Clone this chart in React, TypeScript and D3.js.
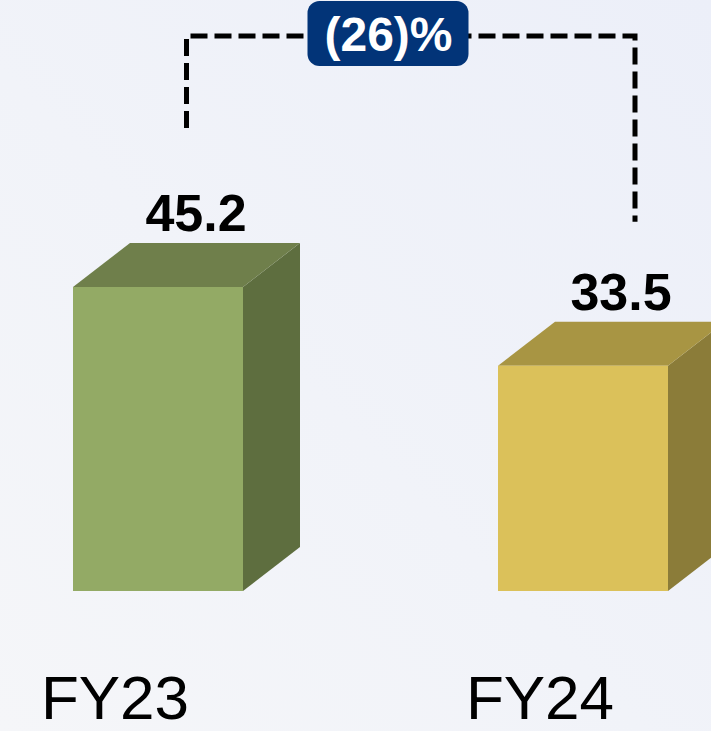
import { useEffect, useRef } from 'react';
import * as d3 from 'd3';

const categories = ['FY23', 'FY24'];
const values = [45.2, 33.5];
const valueLabels = ['45.2', '33.5'];
const frontColors = ['#93aa65', '#dbc15a'];
const topColors = ['#6f7f4b', '#a89543'];
const sideColors = ['#5e6e3f', '#8b7c39'];

const W = 711;
const H = 731;

export default function App() {
  const svgRef = useRef<SVGSVGElement>(null);

  useEffect(() => {
    const svg = d3.select(svgRef.current);
    svg.selectAll('*').remove();

    const defs = svg.append('defs');
    const grad = defs.append('linearGradient')
      .attr('id', 'bg').attr('x1', '100%').attr('y1', '0%').attr('x2', '0%').attr('y2', '100%');
    grad.append('stop').attr('offset', '0%').attr('stop-color', '#eceff9');
    grad.append('stop').attr('offset', '55%').attr('stop-color', '#f1f3f9');
    grad.append('stop').attr('offset', '100%').attr('stop-color', '#f5f6f9');
    svg.append('rect').attr('width', W).attr('height', H).attr('fill', 'url(#bg)');

    const x = d3.scaleBand<string>()
      .domain(categories)
      .range([73, 668])
      .paddingInner(0.6)
      .paddingOuter(0);
    const bw = x.bandwidth();
    const y = d3.scaleLinear().domain([0, 45.2]).range([591, 287]);
    const dx = 57, dy = 44;

    const g = svg.append('g');
    categories.forEach((c, i) => {
      const x0 = x(c)!;
      const y0 = y(values[i]);
      const yb = y(0);
      // side face
      g.append('path')
        .attr('d', `M${x0 + bw},${y0} L${x0 + bw + dx},${y0 - dy} L${x0 + bw + dx},${yb - dy} L${x0 + bw},${yb} Z`)
        .attr('fill', sideColors[i]);
      // top face
      g.append('path')
        .attr('d', `M${x0},${y0} L${x0 + dx},${y0 - dy} L${x0 + bw + dx},${y0 - dy} L${x0 + bw},${y0} Z`)
        .attr('fill', topColors[i]);
      // front face
      g.append('rect')
        .attr('x', x0).attr('y', y0).attr('width', bw).attr('height', yb - y0)
        .attr('fill', frontColors[i]);

      g.append('text')
        .attr('x', x0 + 123).attr('y', y0 - 56)
        .attr('text-anchor', 'middle')
        .attr('font-family', 'Liberation Sans, Arial, sans-serif')
        .attr('font-weight', 'bold').attr('font-size', 52)
        .attr('fill', '#000')
        .text(valueLabels[i]);

      g.append('text')
        .attr('x', x0 + bw / 2 - 43).attr('y', 719)
        .attr('text-anchor', 'middle')
        .attr('font-family', 'Liberation Sans, Arial, sans-serif')
        .attr('font-size', 62)
        .attr('fill', '#000')
        .text(c);
    });

    // bracket
    const lx = x(categories[0])! + (bw + dx) / 2;
    const rx = x(categories[1])! + 137;
    const topY = 36;
    const ly = y(values[0]) - 159;
    const ry = y(values[1]) - 144;
    g.append('path')
      .attr('d', `M${lx},${ly} L${lx},${topY} L${rx},${topY} L${rx},${ry}`)
      .attr('fill', 'none')
      .attr('stroke', '#000')
      .attr('stroke-width', 5)
      .attr('stroke-dasharray', '17 7');

    const change = Math.round((values[1] - values[0]) / values[0] * 100);
    const pct = change < 0 ? `(${Math.abs(change)})%` : `${change}%`;
    const bx = lx + 201;
    g.append('rect')
      .attr('x', bx - 80).attr('y', 1).attr('width', 161).attr('height', 65)
      .attr('rx', 12)
      .attr('fill', '#023478');
    g.append('text')
      .attr('x', bx + 1).attr('y', 51)
      .attr('text-anchor', 'middle')
      .attr('font-family', 'Liberation Sans, Arial, sans-serif')
      .attr('font-weight', 'bold').attr('font-size', 48)
      .attr('fill', '#fff')
      .text(pct);
  }, []);

  return (
    <svg ref={svgRef} width={W} height={H}
      style={{ position: 'absolute', left: 0, top: 0, display: 'block' }} />
  );
}
